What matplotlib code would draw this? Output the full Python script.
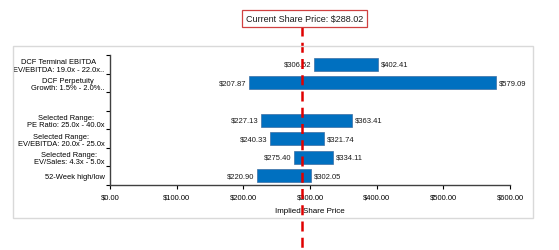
import matplotlib
matplotlib.use("Agg")
import matplotlib.pyplot as plt
from matplotlib.patches import Rectangle
from matplotlib.lines import Line2D
from matplotlib.transforms import blended_transform_factory
import numpy as np

plt.rcParams['font.family'] = ['Liberation Sans', 'DejaVu Sans']

categories = [
    "DCF Terminal EBITDA\nEV/EBITDA: 19.0x - 22.0x..",
    "DCF Perpetuity\nGrowth: 1.5% - 2.0%..",
    "",
    "Selected Range:\nPE Ratio: 25.0x - 40.0x",
    "Selected Range:\nEV/EBITDA: 20.0x - 25.0x",
    "Selected Range:\nEV/Sales: 4.3x - 5.0x",
    "52-Week high/low",
]
lows = [306.52, 207.87, None, 227.13, 240.33, 275.40, 220.90]
highs = [402.41, 579.09, None, 363.41, 321.74, 334.11, 302.05]
current_price = 288.02
xticks = [0, 100, 200, 300, 400, 500, 600]

W, H = 559, 251
fig = plt.figure(figsize=(W / 100, H / 100), dpi=100)
fig.patch.set_facecolor('white')

# outer chart box
fig.patches.append(Rectangle((13 / W, 1 - 219 / H), 520 / W, 172 / H,
                             transform=fig.transFigure, fill=False,
                             edgecolor='#d9d9d9', lw=1.0))

ax = fig.add_axes([110 / W, 1 - 186 / H, 400 / W, 130 / H])
n = len(categories)
ypos = np.arange(n)
for i, (lo, hi) in enumerate(zip(lows, highs)):
    if lo is None:
        continue
    ax.barh(i, hi - lo, left=lo, height=0.7, color='#0070C0',
            edgecolor='#3c6fa3', lw=0.5, zorder=2)
    ax.text(lo - 4, i, f"${lo:.2f}", ha='right', va='center', fontsize=5.5, color='#1a1a1a')
    ax.text(hi + 4, i, f"${hi:.2f}", ha='left', va='center', fontsize=5.5, color='#1a1a1a')

ax.set_ylim(n - 0.5, -0.5)
ax.set_xlim(0, 600)
ax.set_yticks(ypos)
ax.set_yticklabels(categories, fontsize=5.4, multialignment='center', linespacing=1.05)
ax.set_yticks(np.arange(-0.5, n, 1), minor=True)
ax.tick_params(axis='y', which='major', length=0, pad=4)
ax.tick_params(axis='y', which='minor', length=3, width=0.8)
ax.set_xticks(xticks)
ax.set_xticklabels([f"${v:.2f}" for v in xticks], fontsize=5.5)
ax.tick_params(axis='x', length=3, width=0.8, pad=3)
ax.set_xlabel("Implied Share Price", fontsize=5.8, labelpad=5)
for s in ['top', 'right']:
    ax.spines[s].set_visible(False)
for s in ['left', 'bottom']:
    ax.spines[s].set_color('#404040')
    ax.spines[s].set_linewidth(1.0)

# current share price line
tr = blended_transform_factory(ax.transData, fig.transFigure)
line = Line2D([current_price, current_price], [1 - 27 / H, 0], transform=tr,
              color='#e00000', lw=1.8, linestyle=(0, (4, 2.5)), clip_on=False, zorder=5)
ax.add_line(line)

fig.text(304.5 / W, 1 - 19.5 / H, "Current Share Price: $288.02", ha='center', va='center',
         fontsize=6.5, color='#1a1a1a',
         bbox=dict(boxstyle='square,pad=0.45', facecolor='white', edgecolor='#d04040', lw=0.9))

fig.savefig("out.png", dpi=100)
